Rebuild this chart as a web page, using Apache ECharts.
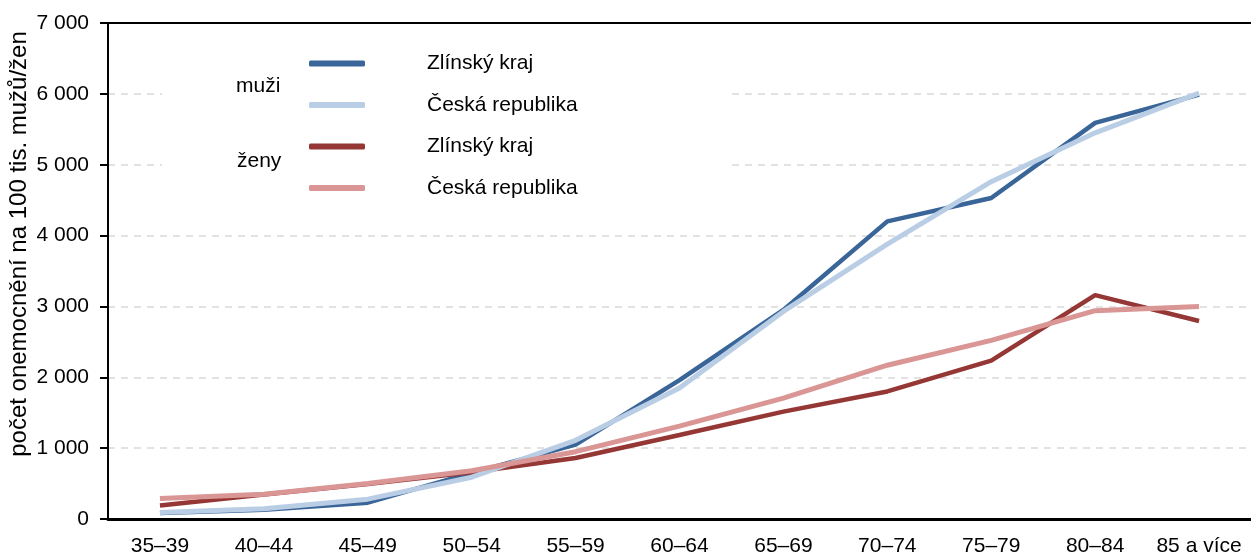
<!DOCTYPE html>
<html>
<head>
    <meta charset="utf-8">
    <title>Incidence podle věku</title>
    <script src="https://cdn.jsdelivr.net/npm/echarts@6/dist/echarts.min.js"></script>
    <style>
        body { margin: 0; background: #fff; }
    </style>
</head>
<body>
    <div id="main" style="width: 1251px;height:553px;"></div>
    <script type="text/javascript">
        // věkové skupiny
        var categories = ['35–39', '40–44', '45–49', '50–54', '55–59', '60–64', '65–69', '70–74', '75–79', '80–84', '85 a více'];
        // muži
        var muziZlin = [85, 130, 230, 650, 1050, 1960, 2950, 4200, 4530, 5590, 5990];
        var muziCR = [90, 145, 280, 590, 1110, 1850, 2930, 3880, 4760, 5450, 6010];
        // ženy
        var zenyZlin = [190, 345, 495, 660, 860, 1185, 1515, 1800, 2235, 3160, 2795];
        var zenyCR = [290, 350, 500, 680, 950, 1310, 1705, 2170, 2520, 2940, 3000];
        var yTicks = [0, 1000, 2000, 3000, 4000, 5000, 6000, 7000];

        var font = 'Liberation Sans, Arial, sans-serif';
        var myChart = echarts.init(document.getElementById('main'));

        var option = {
            animation: false,
            textStyle: { fontFamily: font },
            // pevná plocha grafu, popisky se nepřepočítávají dovnitř
            grid: { left: 108, right: 0, top: 23, bottom: 34, outerBoundsMode: 'none', containLabel: false },
            graphic: [
                // bílý podklad legendy přes mřížku
                { type: 'rect', z: 1, shape: { x: 162, y: 35, width: 567, height: 165 }, style: { fill: '#fff' } },
                { type: 'text', z: 5, x: 236, y: 86, style: { text: 'muži', font: '21px ' + font, fill: '#000', verticalAlign: 'middle' } },
                { type: 'text', z: 5, x: 237, y: 161, style: { text: 'ženy', font: '21px ' + font, fill: '#000', verticalAlign: 'middle' } },
                // popisek osy y
                { type: 'text', z: 5, x: 19, y: 244, rotation: Math.PI / 2, style: { text: 'počet onemocnění na 100 tis. mužů/žen', font: '24px ' + font, fill: '#000', align: 'center', verticalAlign: 'middle' } }
            ],
            legend: {
                orient: 'vertical',
                left: 304,
                top: 48,
                itemWidth: 56,
                itemHeight: 6,
                itemGap: 20.5,
                icon: 'roundRect',
                data: ['Zlínský kraj|m', 'Česká republika|m', 'Zlínský kraj|z', 'Česká republika|z'],
                formatter: function(name) { return name.split('|')[0]; },
                textStyle: { fontSize: 21, color: '#000', lineHeight: 20, padding: [0, 0, 0, 57] }
            },
            xAxis: [{
                type: 'category',
                data: categories,
                axisLine: { lineStyle: { color: '#000', width: 3 } },
                axisTick: { length: 8, lineStyle: { color: '#000', width: 2 } },
                axisLabel: { fontSize: 21, color: '#000', margin: 17, interval: 0 }
            }, {
                // horní okraj grafu
                type: 'category',
                position: 'top',
                data: categories,
                axisLine: { lineStyle: { color: '#000', width: 2 } },
                axisTick: { show: false },
                axisLabel: { show: false }
            }],
            yAxis: {
                type: 'value',
                min: 0,
                max: 7000,
                interval: 1000,
                axisLine: { show: true, lineStyle: { color: '#000', width: 2 } },
                axisTick: { show: true, length: 8, lineStyle: { color: '#000', width: 2 } },
                axisLabel: {
                    fontSize: 21, color: '#000', margin: 19,
                    formatter: function(v) { return yTicks.indexOf(v) >= 0 ? String(v).replace(/\B(?=(\d{3})+$)/g, ' ') : ''; }
                },
                splitLine: { show: true, lineStyle: { color: '#d9d9d9', type: [7, 6], width: 1.5 } }
            },
            series: [{
                name: 'Zlínský kraj|m',
                type: 'line',
                data: muziZlin,
                symbol: 'none',
                z: 2,
                lineStyle: { color: '#3a6598', width: 4.5 },
                itemStyle: { color: '#3a6598' }
            }, {
                name: 'Česká republika|m',
                type: 'line',
                data: muziCR,
                symbol: 'none',
                z: 3,
                lineStyle: { color: '#b9cde5', width: 5 },
                itemStyle: { color: '#b9cde5' }
            }, {
                name: 'Zlínský kraj|z',
                type: 'line',
                data: zenyZlin,
                symbol: 'none',
                z: 2,
                lineStyle: { color: '#953735', width: 4.5 },
                itemStyle: { color: '#953735' }
            }, {
                name: 'Česká republika|z',
                type: 'line',
                data: zenyCR,
                symbol: 'none',
                z: 3,
                lineStyle: { color: '#d99694', width: 5 },
                itemStyle: { color: '#d99694' }
            }]
        };

        myChart.setOption(option);
    </script>
</body>
</html>
